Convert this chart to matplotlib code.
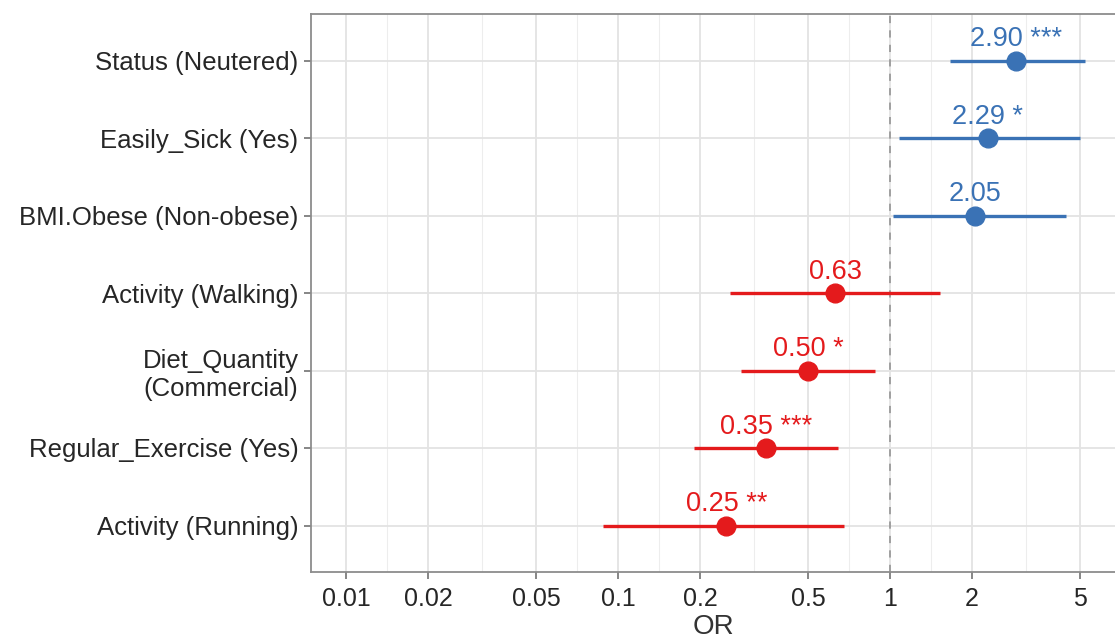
import numpy as np
import matplotlib
matplotlib.use("Agg")
import matplotlib.pyplot as plt

plt.rcParams['font.family'] = ['Liberation Sans', 'DejaVu Sans']

# data, bottom row first
labels = ["Activity (Running)", "Regular_Exercise (Yes)", "Diet_Quantity\n(Commercial)",
          "Activity (Walking)", "BMI.Obese (Non-obese)", "Easily_Sick (Yes)",
          "Status (Neutered)"]
odds = [0.25, 0.35, 0.50, 0.63, 2.05, 2.29, 2.90]
lower = [0.088, 0.191, 0.284, 0.259, 1.026, 1.08, 1.66]
upper = [0.676, 0.643, 0.88, 1.53, 4.42, 4.98, 5.2]
stars = ["**", "***", "*", "", "", "*", "***"]

x_breaks = [0.01, 0.02, 0.05, 0.1, 0.2, 0.5, 1, 2, 5]
x_break_labels = ["0.01", "0.02", "0.05", "0.1", "0.2", "0.5", "1", "2", "5"]

BLUE = "#3A72B5"
RED = "#E41A1C"

fig = plt.figure(figsize=(11.15, 6.39), dpi=100)
ax = fig.add_axes([311 / 1115, 67 / 639, 804 / 1115, 558 / 639])

ax.set_xscale("log")
ax.set_xlim(0.00743, 6.72)
ax.set_ylim(0.4, len(labels) + 0.6)

# minor grid halfway between breaks (log space)
logb = np.log10(x_breaks)
minor = 10 ** ((logb[:-1] + logb[1:]) / 2)
for m in minor:
    ax.axvline(m, color="#EDEDED", lw=0.8, zorder=0)
for b in x_breaks:
    ax.axvline(b, color="#E3E3E3", lw=1.3, zorder=0)
ys = np.arange(1, len(labels) + 1)
for y in ys:
    ax.axhline(y, color="#E3E3E3", lw=1.3, zorder=0)

ax.axvline(1, color="#9A9A9A", lw=1.3, ls=(0, (4, 4)), zorder=1)

for y, o, lo, hi, s in zip(ys, odds, lower, upper, stars):
    c = BLUE if o > 1 else RED
    ax.plot([lo, hi], [y, y], color=c, lw=2.4, solid_capstyle="butt", zorder=2)
    ax.plot(o, y, "o", color=c, ms=13.5, zorder=3)
    txt = f"{o:.2f}" + (f" {s}" if s else "")
    ax.annotate(txt, (o, y), xytext=(0, 6), textcoords="offset points",
                ha="center", va="bottom", color=c, fontsize=19.5)

ax.set_xticks(x_breaks)
ax.set_xticklabels(x_break_labels)
ax.xaxis.set_minor_locator(matplotlib.ticker.NullLocator())
ax.set_yticks(ys)
ax.set_yticklabels(labels, linespacing=1.2)

ax.tick_params(axis="both", colors="#666666", length=5, width=1.1,
               labelsize=18, labelcolor="#262626", pad=6)
ax.tick_params(axis="y", labelsize=18.5, pad=4)
ax.set_xlabel("OR", fontsize=20, color="#333333", labelpad=2)

for side in ["left", "bottom", "top"]:
    ax.spines[side].set_color("#8C8C8C")
    ax.spines[side].set_linewidth(1.3)
ax.spines["right"].set_visible(False)

fig.savefig("out.png", dpi=100)
